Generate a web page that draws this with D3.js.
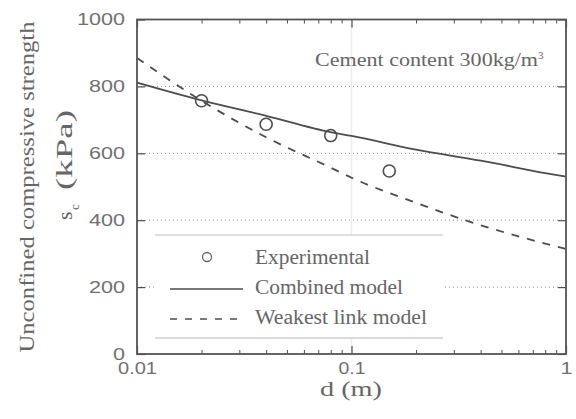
<!DOCTYPE html>
<html>
<head>
<meta charset="utf-8">
<script src="https://cdn.jsdelivr.net/npm/d3@7"></script>
<style>
  body { margin: 0; background: #fff; }
  text { fill: #666; }
</style>
</head>
<body>
<svg id="canvas" width="576" height="419"></svg>
<script>
// experimental points
const dExp = [0.02, 0.04, 0.08, 0.15]
const sExp = [757, 687, 653, 547]

// model curves
const dModel = [0.01, 0.02, 0.04, 0.08, 0.1, 0.2, 0.4, 0.8, 1]
const sCombined = [811, 758, 712, 663, 652, 611, 578, 541, 530]
const sWeakest = [885, 757, 648, 557, 527, 452, 385, 330, 314]

const xTicks = [0.01, 0.1, 1]
const xTickLabels = ['0.01', '0.1', '1']
const yTicks = [0, 200, 400, 600, 800, 1000]
const gridVals = [200, 400, 600, 800]

const legendItems = ['Experimental', 'Combined model', 'Weakest link model']

const margin = { top: 19.5, right: 10, bottom: 65, left: 137 }
const width = 576 - margin.left - margin.right
const height = 419 - margin.top - margin.bottom

const svg = d3.select('#canvas')
const g = svg.append('g').attr('transform', `translate(${margin.left},${margin.top})`)

const x = d3.scaleLog().domain([0.01, 1]).range([0, width])
const y = d3.scaleLinear().domain([0, 1000]).range([height, 0])

const lineCol = '#4d4d4d'
const serif = '"Liberation Serif", "Times New Roman", serif'
const sans = '"Liberation Sans", Arial, sans-serif'

// faint vertical guide at 0.1
g.append('line')
  .attr('x1', x(0.1)).attr('x2', x(0.1))
  .attr('y1', 0).attr('y2', height)
  .attr('stroke', '#ededed').attr('stroke-width', 1.5)

// dotted grid
g.selectAll('.grid')
  .data(gridVals)
  .enter()
  .append('line')
  .attr('class', 'grid')
  .attr('x1', 0).attr('x2', width)
  .attr('y1', d => y(d)).attr('y2', d => y(d))
  .attr('stroke', '#8a8a8a')
  .attr('stroke-width', 1)
  .attr('stroke-dasharray', '1,3')

let tickLen = (s) => s.replace('.', '').length * 12 + (s.includes('.') ? 3 : 0)

// left axis
let yAxis = g.append('g')
  .call(d3.axisLeft(y).tickValues(yTicks).tickSize(-8).tickPadding(12).tickFormat(d3.format('d')))
yAxis.select('.domain').remove()
yAxis.selectAll('line').attr('stroke', lineCol).attr('stroke-width', 1.2)
yAxis.selectAll('text')
  .style('font-family', sans).style('font-size', '16px').style('fill', '#707070')
  .attr('textLength', d => tickLen(String(d)))
  .attr('lengthAdjust', 'spacingAndGlyphs')

// right axis ticks
let yAxisR = g.append('g').attr('transform', `translate(${width},0)`)
  .call(d3.axisRight(y).tickValues(yTicks).tickSize(-8).tickFormat(''))
yAxisR.select('.domain').remove()
yAxisR.selectAll('line').attr('stroke', lineCol).attr('stroke-width', 1.2)

// minor log ticks
let minor = []
;[0.01, 0.1].forEach(dec => {
  for (let k = 2; k <= 9; k++) minor.push(dec * k)
})

let xAxis = g.append('g').attr('transform', `translate(0,${height})`)
  .call(d3.axisBottom(x).tickValues(xTicks).tickSize(-8).tickPadding(9)
    .tickFormat((d, i) => xTickLabels[i]))
xAxis.select('.domain').remove()
xAxis.selectAll('line').attr('stroke', lineCol).attr('stroke-width', 1.2)
xAxis.selectAll('text')
  .style('font-family', sans).style('font-size', '16px').style('fill', '#707070')
  .attr('textLength', (d, i) => tickLen(xTickLabels[i]))
  .attr('lengthAdjust', 'spacingAndGlyphs')

let xMinorB = g.append('g').attr('transform', `translate(0,${height})`)
  .call(d3.axisBottom(x).tickValues(minor).tickSize(-4).tickFormat(''))
xMinorB.select('.domain').remove()
xMinorB.selectAll('line').attr('stroke', lineCol)

let xAxisT = g.append('g')
  .call(d3.axisTop(x).tickValues(xTicks).tickSize(-8).tickFormat(''))
xAxisT.select('.domain').remove()
xAxisT.selectAll('line').attr('stroke', lineCol).attr('stroke-width', 1.2)
let xMinorT = g.append('g')
  .call(d3.axisTop(x).tickValues(minor).tickSize(-4).tickFormat(''))
xMinorT.select('.domain').remove()
xMinorT.selectAll('line').attr('stroke', lineCol)

// curves
let line = d3.line()
  .x(d => x(d[0]))
  .y(d => y(d[1]))
  .curve(d3.curveMonotoneX)

g.append('path')
  .datum(dModel.map((d, i) => [d, sWeakest[i]]))
  .attr('d', line)
  .attr('fill', 'none')
  .attr('stroke', lineCol)
  .attr('stroke-width', 1.8)
  .attr('stroke-dasharray', '8,8')

g.append('path')
  .datum(dModel.map((d, i) => [d, sCombined[i]]))
  .attr('d', line)
  .attr('fill', 'none')
  .attr('stroke', lineCol)
  .attr('stroke-width', 1.8)

g.selectAll('.pt')
  .data(dExp.map((d, i) => [d, sExp[i]]))
  .enter()
  .append('circle')
  .attr('class', 'pt')
  .attr('cx', d => x(d[0]))
  .attr('cy', d => y(d[1]))
  .attr('r', 6)
  .attr('fill', 'none')
  .attr('stroke', lineCol)
  .attr('stroke-width', 1.6)

// legend
let lg = svg.append('g')
lg.append('rect')
  .attr('x', 155).attr('y', 235).attr('width', 288).attr('height', 103)
  .attr('fill', '#fff')
lg.append('line').attr('x1', 155).attr('x2', 443).attr('y1', 235).attr('y2', 235)
  .attr('stroke', '#d4d4d4').attr('stroke-width', 1.5)
lg.append('line').attr('x1', 155).attr('x2', 443).attr('y1', 338).attr('y2', 338)
  .attr('stroke', '#cfcfcf').attr('stroke-width', 1.5)

lg.append('circle').attr('cx', 207).attr('cy', 257).attr('r', 4.5)
  .attr('fill', 'none').attr('stroke', '#666').attr('stroke-width', 1.3)
lg.append('line').attr('x1', 170).attr('x2', 243).attr('y1', 289).attr('y2', 289)
  .attr('stroke', lineCol).attr('stroke-width', 1.4)
lg.append('line').attr('x1', 170).attr('x2', 245).attr('y1', 319).attr('y2', 319)
  .attr('stroke', lineCol).attr('stroke-width', 1.4).attr('stroke-dasharray', '7,8')

let legW = [115, 148, 172]
lg.selectAll('.lt')
  .data(legendItems)
  .enter()
  .append('text')
  .attr('class', 'lt')
  .attr('x', 255)
  .attr('y', (d, i) => 264 + i * 30)
  .attr('textLength', (d, i) => legW[i])
  .attr('lengthAdjust', 'spacingAndGlyphs')
  .style('font-family', serif).style('font-size', '20px')
  .text(d => d)

// annotation
svg.append('text')
  .attr('x', 315).attr('y', 66)
  .attr('textLength', 223).attr('lengthAdjust', 'spacingAndGlyphs')
  .style('font-family', serif).style('font-size', '19px')
  .text('Cement content 300kg/m')
svg.append('text')
  .attr('x', 538).attr('y', 59)
  .style('font-family', serif).style('font-size', '11px')
  .text('3')

// frame
g.append('rect')
  .attr('width', width).attr('height', height)
  .attr('fill', 'none').attr('stroke', '#555').attr('stroke-width', 1.8)

// axis titles
svg.append('text')
  .attr('transform', 'translate(34,187) rotate(-90)')
  .attr('text-anchor', 'middle')
  .attr('textLength', 331).attr('lengthAdjust', 'spacingAndGlyphs')
  .style('font-family', serif).style('font-size', '22px')
  .text('Unconfined compressive strength')

svg.append('text')
  .attr('transform', 'translate(72,220) rotate(-90)')
  .style('font-family', serif).style('font-size', '22px')
  .text('s')
svg.append('text')
  .attr('transform', 'translate(79,210) rotate(-90)')
  .style('font-family', serif).style('font-size', '13px')
  .text('c')
svg.append('text')
  .attr('transform', 'translate(72,190) rotate(-90)')
  .attr('textLength', 80).attr('lengthAdjust', 'spacingAndGlyphs')
  .style('font-family', serif).style('font-size', '24px')
  .text('(kPa)')

svg.append('text')
  .attr('x', 351).attr('y', 396)
  .attr('text-anchor', 'middle')
  .attr('textLength', 62).attr('lengthAdjust', 'spacingAndGlyphs')
  .style('font-family', serif).style('font-size', '21px')
  .text('d (m)')
</script>
</body>
</html>
